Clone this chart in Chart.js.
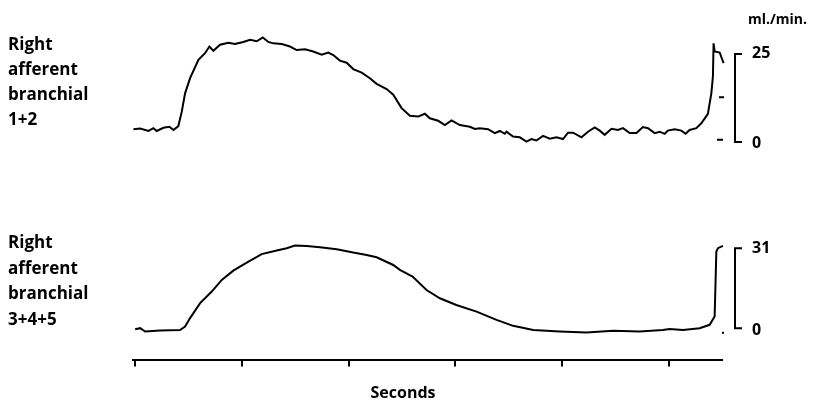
<!DOCTYPE html>
<html>
<head>
<meta charset="utf-8">
<script src="https://cdn.jsdelivr.net/npm/chart.js@4.4.1/dist/chart.umd.min.js"></script>
<style>
  html, body { margin: 0; padding: 0; background: #fff; }
</style>
</head>
<body>
<canvas id="flowChart" width="813" height="404"></canvas>
<script>
// Right afferent branchial 1+2 (ml./min.)
const secondsTop = [-0.16, 0.47, 1.25, 1.71, 2.03, 2.65, 3.21, 3.59, 4.05, 4.37, 4.68, 5.15, 5.93, 6.55, 6.96, 7.33,
  7.96, 8.74, 9.36, 10.14, 10.77, 11.40, 11.96, 12.48, 12.95, 13.74, 14.51, 15.14, 15.92, 16.69, 17.48, 18.10,
  18.57, 19.19, 19.82, 20.44, 21.23, 22.00, 22.63, 23.57, 24.19, 24.97, 25.75, 26.53, 27.15, 27.62, 28.40, 29.03,
  29.65, 30.43, 31.37, 31.84, 32.30, 33.08, 33.71, 34.18, 34.64, 34.80, 35.42, 36.05, 36.68, 37.14, 37.61, 38.23,
  38.86, 39.49, 40.10, 40.57, 41.04, 41.83, 42.44, 43.07, 43.54, 44.01, 44.64, 45.25, 45.72, 46.35, 46.98, 47.59,
  48.06, 48.69, 49.16, 49.63, 49.93, 50.56, 51.19, 51.59, 51.97, 52.59, 53.06, 53.68, 54.00, 54.15, 54.21, 54.31,
  54.78, 55.15];
const flowTop = [3.6, 3.8, 3.1, 3.9, 3.1, 4.0, 4.3, 3.4, 4.5, 8.6, 13.8, 18.1, 23.3, 25.2, 27.1, 25.9,
  27.6, 28.2, 27.8, 28.4, 29.0, 28.6, 29.7, 28.4, 28.0, 27.8, 27.1, 26.1, 26.3, 25.7, 24.8, 25.4,
  24.7, 23.1, 22.5, 20.7, 19.7, 18.1, 16.5, 15.0, 13.4, 9.6, 7.4, 7.2, 8.0, 6.7, 6.0, 4.8,
  6.1, 4.8, 4.3, 3.7, 3.9, 3.6, 2.5, 3.1, 2.3, 2.9, 1.5, 1.3, 0.1, 0.8, 0.4, 1.7,
  0.9, 1.3, 0.8, 2.6, 2.6, 1.3, 2.9, 4.1, 3.2, 2.0, 3.7, 3.4, 3.9, 2.5, 2.5, 4.2,
  3.9, 2.5, 2.9, 2.3, 3.2, 3.6, 3.2, 2.3, 3.4, 3.9, 5.3, 8.0, 13.8, 18.6, 28.0, 25.7,
  25.4, 22.4];

// Right afferent branchial 3+4+5 (ml./min.)
const secondsBottom = [0, 0.47, 0.94, 2.34, 4.21, 4.68, 5.15, 6.09, 7.18, 8.12, 9.20, 10.46, 11.86, 13.27, 14.20,
  14.98, 16.08, 17.32, 18.89, 20.44, 21.70, 22.63, 24.19, 24.81, 26.00, 27.31, 28.56, 30.10, 32.00, 33.87,
  35.42, 37.31, 39.79, 42.30, 44.79, 47.28, 49.46, 50.09, 51.34, 52.90, 53.84, 54.31, 54.40, 54.47, 54.62, 55.09];
const flowBottom = [-0.4, 0, -1.3, -0.9, -0.7, 0.6, 3.9, 9.7, 14.2, 18.7, 22.3, 25.4, 28.7, 30.1, 31.0,
  32.0, 31.9, 31.4, 30.6, 29.3, 28.4, 27.5, 24.5, 22.6, 20.0, 14.8, 11.6, 9.0, 6.4, 3.2,
  0.9, -0.7, -1.3, -1.7, -1.0, -1.3, -0.7, -0.3, -0.7, 0, 1.3, 4.5, 18.7, 29.7, 31.0, 31.9];

const xTicks = [0, 10, 20, 30, 40, 50];
const topCalibration = [0, 25];
const bottomCalibration = [0, 31];
const topLabel = ["Right", "afferent", "branchial", "1+2"];
const bottomLabel = ["Right", "afferent", "branchial", "3+4+5"];
const unitLabel = "ml./min.";
const xTitle = "Seconds";

const LABEL_FONT = "bold 17px 'Open Sans'";
const NUM_FONT = "bold 16px 'Open Sans'";
const UNIT_FONT = "bold 14px 'Open Sans'";
const TITLE_FONT = "bold 16px 'Open Sans'";

function toPoints(xs, ys) {
  return xs.map((x, i) => ({ x, y: ys[i] }));
}

function drawBracket(ctx, scale, calib, x) {
  const yLow = scale.getPixelForValue(calib[0]);
  const yHigh = scale.getPixelForValue(calib[1]);
  ctx.lineWidth = 2;
  ctx.beginPath();
  ctx.moveTo(x + 7, yHigh);
  ctx.lineTo(x, yHigh);
  ctx.lineTo(x, yLow);
  ctx.lineTo(x + 7, yLow);
  ctx.stroke();
  ctx.font = NUM_FONT;
  ctx.textBaseline = "middle";
  ctx.fillText(String(calib[1]), x + 17, yHigh);
  ctx.fillText(String(calib[0]), x + 17, yLow + 2);
}

const traceDecor = {
  id: "traceDecor",
  afterDraw(chart) {
    const ctx = chart.ctx;
    const area = chart.chartArea;
    const yTop = chart.scales.yTop;
    const yBottom = chart.scales.yBottom;
    ctx.save();
    ctx.fillStyle = "#000";
    ctx.strokeStyle = "#000";

    // trace names on the left
    ctx.font = LABEL_FONT;
    ctx.textBaseline = "alphabetic";
    topLabel.forEach((t, i) => ctx.fillText(t, 8, 50 + i * 25));
    bottomLabel.forEach((t, i) => ctx.fillText(t, 8, 248 + i * 25.7));

    // calibration brackets
    const bx = area.right + 13;
    drawBracket(ctx, yTop, topCalibration, bx);
    drawBracket(ctx, yBottom, bottomCalibration, bx);

    // small pen marks next to the traces
    ctx.lineWidth = 2;
    ctx.beginPath();
    ctx.moveTo(area.right - 3, yTop.getPixelForValue(12.7));
    ctx.lineTo(area.right + 2, yTop.getPixelForValue(12.7));
    ctx.moveTo(area.right - 5, yTop.getPixelForValue(0.6));
    ctx.lineTo(area.right + 1, yTop.getPixelForValue(0.6));
    ctx.stroke();
    ctx.fillRect(area.right, yBottom.getPixelForValue(-1.8) - 1, 2, 2);

    ctx.font = UNIT_FONT;
    ctx.textBaseline = "alphabetic";
    ctx.fillText(unitLabel, area.right + 26, 24);

    // axis caption, sits left of the axis centre as in the original
    ctx.font = TITLE_FONT;
    ctx.textAlign = "center";
    ctx.fillText(xTitle, 403, 398);
    ctx.restore();
  }
};

new Chart(document.getElementById("flowChart"), {
  type: "line",
  data: {
    datasets: [
      { data: toPoints(secondsTop, flowTop), yAxisID: "yTop" },
      { data: toPoints(secondsBottom, flowBottom), yAxisID: "yBottom" }
    ]
  },
  options: {
    responsive: false,
    animation: false,
    devicePixelRatio: 1,
    layout: { padding: { left: 133, right: 91, top: 30, bottom: 37.6 } },
    elements: {
      point: { radius: 0 },
      line: { borderColor: "#000", borderWidth: 2, tension: 0 }
    },
    datasets: { line: { clip: false } },
    plugins: { legend: { display: false }, tooltip: { enabled: false } },
    scales: {
      x: {
        type: "linear",
        min: -0.2,
        max: 55,
        afterBuildTicks: scale => { scale.ticks = xTicks.map(v => ({ value: v })); },
        ticks: { display: false },
        grid: { drawOnChartArea: false, drawTicks: true, tickLength: 6, color: "#000", lineWidth: 2 },
        border: { display: true, color: "#000", width: 2 }
      },
      yTop: { type: "linear", display: false, min: -62.1, max: 31.8 },
      yBottom: { type: "linear", display: false, min: -12.5, max: 115.6 }
    }
  },
  plugins: [traceDecor]
});
</script>
</body>
</html>
